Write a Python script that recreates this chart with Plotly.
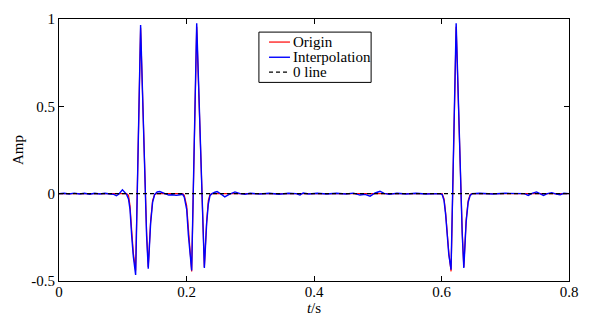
import plotly.graph_objects as go

# ---------------- data ----------------
t_origin = [0.000, 0.106, 0.109, 0.1114, 0.114, 0.1166, 0.1202, 0.128, 0.1374, 0.140, 0.1437, 0.1468, 0.150, 0.153,
            0.194, 0.1965, 0.2003, 0.2029, 0.2055, 0.2081, 0.216, 0.2254, 0.228, 0.2316, 0.2342, 0.2369, 0.240,
            0.601, 0.604, 0.6065, 0.609, 0.6115, 0.615, 0.623, 0.6325, 0.635, 0.6387, 0.6418, 0.645, 0.648,
            0.800]
amp_origin = [0, 0, -0.01, -0.07, -0.21, -0.34, -0.44, 0.95, -0.22, -0.42, -0.16, -0.04, -0.005, 0,
              0, -0.01, -0.07, -0.21, -0.34, -0.445, 0.955, -0.22, -0.42, -0.16, -0.04, -0.005, 0,
              0, -0.03, -0.11, -0.24, -0.34, -0.445, 0.955, -0.22, -0.42, -0.15, -0.04, -0.005, 0,
              0]

interp_points = [
    (0.000, 0.0), (0.008, 0.002), (0.016, -0.002), (0.024, 0.003), (0.032, -0.002), (0.040, 0.002),
    (0.048, -0.003), (0.056, 0.002), (0.064, -0.002), (0.072, 0.002), (0.080, -0.002), (0.086, -0.004),
    (0.090, -0.012), (0.094, -0.002), (0.0995, 0.022), (0.103, 0.010), (0.106, -0.004),
    (0.109, -0.03), (0.1114, -0.09), (0.114, -0.24), (0.1166, -0.36), (0.1202, -0.465), (0.128, 0.966),
    (0.1374, -0.24), (0.140, -0.43), (0.1437, -0.17), (0.1468, -0.05), (0.150, -0.005),
    (0.154, 0.010), (0.158, 0.012), (0.162, 0.006), (0.167, -0.004), (0.172, -0.008), (0.178, -0.006),
    (0.184, -0.010), (0.190, -0.006), (0.194, -0.004),
    (0.1965, -0.02), (0.2003, -0.09), (0.2029, -0.235), (0.2055, -0.355), (0.2081, -0.44), (0.216, 0.975),
    (0.2254, -0.23), (0.228, -0.425), (0.2316, -0.17), (0.2342, -0.06), (0.2369, -0.01), (0.240, 0.0),
    (0.2445, 0.008), (0.248, 0.012), (0.254, -0.002), (0.260, -0.018), (0.267, -0.004), (0.276, 0.010),
    (0.284, 0.0), (0.292, -0.003), (0.300, 0.002), (0.315, -0.002), (0.330, 0.002), (0.345, -0.003),
    (0.360, 0.002), (0.372, 0.0), (0.378, -0.008), (0.383, 0.004), (0.392, -0.002), (0.405, 0.002),
    (0.420, -0.002), (0.435, 0.002), (0.450, -0.002), (0.462, 0.003), (0.472, -0.008), (0.480, -0.004),
    (0.488, -0.014), (0.496, 0.004), (0.5035, 0.014), (0.510, 0.002), (0.518, -0.004), (0.530, 0.002),
    (0.545, -0.002), (0.560, 0.002), (0.575, -0.002), (0.590, 0.002), (0.598, 0.0),
    (0.601, -0.005), (0.604, -0.04), (0.6065, -0.12), (0.609, -0.25), (0.6115, -0.35), (0.615, -0.435),
    (0.623, 0.975), (0.6325, -0.23), (0.635, -0.425), (0.6387, -0.16), (0.6418, -0.05), (0.645, -0.01),
    (0.648, 0.0), (0.660, 0.002), (0.680, -0.002), (0.700, 0.002), (0.720, -0.002), (0.730, 0.0),
    (0.736, -0.010), (0.742, 0.002), (0.749, 0.010), (0.755, -0.002), (0.760, -0.010), (0.766, 0.0),
    (0.773, 0.006), (0.780, -0.003), (0.786, -0.006), (0.792, 0.002), (0.800, 0.0),
]
t_interp = [p[0] for p in interp_points]
amp_interp = [p[1] for p in interp_points]

zero_t = [0.0, 0.8]
zero_amp = [0.0, 0.0]

x_ticks = [0, 0.2, 0.4, 0.6, 0.8]
x_ticktext = ["0", "0.2", "0.4", "0.6", "0.8"]
y_ticks = [-0.5, 0, 0.5, 1]
y_ticktext = ["-0.5", "0", "0.5", "1"]

series_names = ["Origin", "Interpolation", "0 line"]
series_colors = ["#ff0000", "#0000ff", "black"]
series_widths = [1.2, 1.4, 1.2]
series_dash = ["solid", "solid", "4px,3px"]

# ---------------- figure ----------------
FONT = "Liberation Serif"

fig = go.Figure()
fig.add_trace(go.Scatter(x=t_origin, y=amp_origin, mode="lines", name=series_names[0],
                         line=dict(color=series_colors[0], width=series_widths[0]), showlegend=False))
fig.add_trace(go.Scatter(x=t_interp, y=amp_interp, mode="lines", name=series_names[1],
                         line=dict(color=series_colors[1], width=series_widths[1]), showlegend=False))
fig.add_trace(go.Scatter(x=zero_t, y=zero_amp, mode="lines", name=series_names[2],
                         line=dict(color=series_colors[2], width=series_widths[2], dash=series_dash[2]),
                         showlegend=False))

axis_common = dict(showgrid=False, zeroline=False, showline=True, linecolor="black", linewidth=1,
                   mirror="ticks", ticks="inside", ticklen=5, tickcolor="black", tickwidth=1,
                   automargin=False,
                   tickfont=dict(family=FONT, size=15, color="black"))

fig.update_xaxes(range=[0, 0.8], tickvals=x_ticks, ticktext=x_ticktext, ticklabelstandoff=-3,
                 title=dict(text="<i>t</i>/s", font=dict(family=FONT, size=15, color="black"), standoff=3),
                 **axis_common)
fig.update_yaxes(range=[-0.5, 1], tickvals=y_ticks, ticktext=y_ticktext,
                 title=dict(text="Amp", font=dict(family=FONT, size=15, color="black"), standoff=4),
                 **axis_common)

# boxed legend drawn in the plot-area frame
lg_x0, lg_x1, lg_y0, lg_y1 = 0.392, 0.612, 0.758, 0.950
row_y = [0.912, 0.854, 0.797]
line_x0, line_x1, text_x = 0.4118, 0.4529, 0.455

shapes = [dict(type="rect", xref="paper", yref="paper", x0=lg_x0, x1=lg_x1, y0=lg_y0, y1=lg_y1,
               line=dict(color="black", width=1), fillcolor="white", layer="above")]
annotations = []
for name, col, wd, dsh, yy in zip(series_names, series_colors, series_widths, series_dash, row_y):
    shapes.append(dict(type="line", xref="paper", yref="paper", x0=line_x0, x1=line_x1, y0=yy, y1=yy,
                       line=dict(color=col, width=wd, dash=dsh), layer="above"))
    annotations.append(dict(xref="paper", yref="paper", x=text_x, y=yy, text=name, showarrow=False,
                            xanchor="left", yanchor="middle",
                            font=dict(family=FONT, size=15, color="black")))

# the page body adds an 8px offset, so the figure is 8px smaller than the window
fig.update_layout(
    width=587, height=308,
    margin=dict(l=51, r=26, t=11, b=35),
    paper_bgcolor="white", plot_bgcolor="white",
    font=dict(family=FONT, size=15, color="black"),
    showlegend=False,
    shapes=shapes, annotations=annotations,
)

fig.write_html("out.html")
